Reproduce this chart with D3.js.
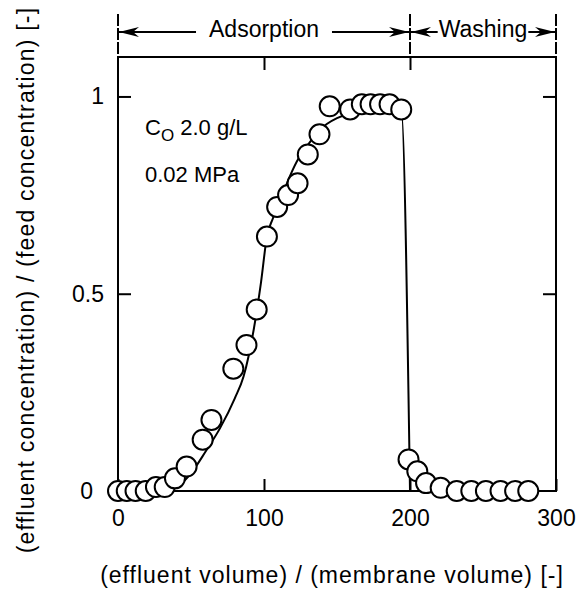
<!DOCTYPE html>
<html>
<head>
<meta charset="utf-8">
<script src="https://cdn.jsdelivr.net/npm/d3@7"></script>
<style>
  body { margin: 0; background: #fff; }
  svg text { font-family: "Liberation Sans", Arial, sans-serif; fill: #000; }
</style>
</head>
<body>
<svg id="chart" width="581" height="593"></svg>
<script>
// measured points: [effluent volume / membrane volume, C / C0]
const adsorptionPts = [
  [0, 0], [6, 0], [12, 0], [19, 0], [26, 0.01], [32, 0.01], [39, 0.032], [47, 0.062],
  [58, 0.13], [64, 0.18], [79, 0.31], [88, 0.37], [95, 0.46], [102, 0.645],
  [109, 0.72], [116.5, 0.75], [123, 0.78], [130, 0.853], [138, 0.904], [145, 0.975],
  [159, 0.967], [167, 0.98], [173, 0.98], [179.5, 0.98], [186, 0.98], [194, 0.967]
];
const washingPts = [
  [199, 0.08], [205, 0.05], [211, 0.02], [221, 0.008], [232, 0], [242, 0],
  [252, 0], [262, 0], [272, 0], [281, 0]
];
// fitted breakthrough curve
const fitCurve = [
  [0, 0], [30, 0], [40, 0.01], [50, 0.045], [60, 0.1], [70, 0.16], [80, 0.235],
  [86, 0.29], [93, 0.41], [98, 0.53], [102, 0.645], [106, 0.69], [112, 0.745],
  [118, 0.8], [124, 0.845], [130, 0.877], [137, 0.91], [143, 0.93], [150, 0.945],
  [160, 0.958], [170, 0.963], [185, 0.965], [194, 0.965], [200, 0]
];
const phases = [
  { name: "Adsorption", from: 0, to: 200 },
  { name: "Washing", from: 200, to: 300 }
];
const xTicks = [0, 100, 200, 300];
const yTicks = [0, 0.5, 1];
const noteLines = ["2.0 g/L", "0.02 MPa"];

const svg = d3.select("#chart");
const x = d3.scaleLinear().domain([0, 300]).range([118, 556]);
const y = d3.scaleLinear().domain([0, 1.1]).range([491, 57]);

// frame
svg.append("rect")
  .attr("x", x(0)).attr("y", y(1.1))
  .attr("width", x(300) - x(0)).attr("height", y(0) - y(1.1))
  .attr("fill", "none").attr("stroke", "#000").attr("stroke-width", 2);

const fontSize = 23;

// bottom axis, ticks pointing inward
svg.append("g")
  .attr("transform", `translate(0,${y(0)})`)
  .call(d3.axisBottom(x).tickValues(xTicks).tickSize(-12).tickPadding(19).tickFormat(d3.format("d")))
  .call(g => g.select(".domain").remove())
  .call(g => g.selectAll("line").attr("stroke-width", 2))
  .call(g => g.selectAll("text").attr("font-size", fontSize).attr("font-family", null));

// top axis, ticks only
svg.append("g")
  .attr("transform", `translate(0,${y(1.1)})`)
  .call(d3.axisTop(x).tickValues([100, 200]).tickSize(-13).tickFormat(""))
  .call(g => g.select(".domain").remove())
  .call(g => g.selectAll("line").attr("stroke-width", 2));

// left axis
svg.append("g")
  .attr("transform", `translate(${x(0)},0)`)
  .call(d3.axisLeft(y).tickValues(yTicks).tickSize(-13).tickPadding(14).tickFormat(d => String(d)))
  .call(g => g.select(".domain").remove())
  .call(g => g.selectAll("line").attr("stroke-width", 2))
  .call(g => g.selectAll("text").attr("font-size", fontSize).attr("font-family", null))
  // the zero label sits a bit further out, clear of the circles
  .call(g => g.selectAll("text").filter(d => d === 0).attr("dx", -11));

// right axis, ticks only
svg.append("g")
  .attr("transform", `translate(${x(300)},0)`)
  .call(d3.axisRight(y).tickValues([0.5, 1]).tickSize(-13).tickFormat(""))
  .call(g => g.select(".domain").remove())
  .call(g => g.selectAll("line").attr("stroke-width", 2));

// axis titles
svg.append("text")
  .attr("x", 332).attr("y", 583)
  .attr("text-anchor", "middle")
  .attr("font-size", fontSize)
  .attr("letter-spacing", 1)
  .text("(effluent volume) / (membrane volume) [-]");

svg.append("text")
  .attr("transform", "translate(34,280) rotate(-90)")
  .attr("text-anchor", "middle")
  .attr("font-size", fontSize)
  .attr("letter-spacing", 1.2)
  .text("(effluent concentration) / (feed concentration) [-]");

// phase annotation above the frame
const arrowY = 32;
svg.selectAll(".bound")
  .data([0, 200, 300])
  .join("line")
  .attr("class", "bound")
  .attr("x1", d => x(d)).attr("x2", d => x(d))
  .attr("y1", 14).attr("y2", y(1.1))
  .attr("stroke", "#000").attr("stroke-width", 2)
  .attr("stroke-dasharray", "12,2");

function arrowHead(tipX, dir) {
  // barbed arrow head, dir = +1 points right, -1 points left
  const L = 20, h = 5, n = 14;
  return `M${tipX},${arrowY} L${tipX - dir * L},${arrowY - h} L${tipX - dir * n},${arrowY} L${tipX - dir * L},${arrowY + h} Z`;
}

phases.forEach(p => {
  const cx = (x(p.from) + x(p.to)) / 2;
  const t = svg.append("text")
    .attr("x", cx).attr("y", 37)
    .attr("text-anchor", "middle")
    .attr("font-size", fontSize)
    .text(p.name);
  const w = t.node().getComputedTextLength();
  const free = (x(p.to) - x(p.from) - w) / 2;
  const gap = free > 40 ? 13 : 1;
  const x0 = x(p.from) + 1, x1 = x(p.to) - 1;
  svg.append("line")
    .attr("x1", x0).attr("x2", cx - w / 2 - gap)
    .attr("y1", arrowY).attr("y2", arrowY)
    .attr("stroke", "#000").attr("stroke-width", 2);
  svg.append("line")
    .attr("x1", cx + w / 2 + gap).attr("x2", x1)
    .attr("y1", arrowY).attr("y2", arrowY)
    .attr("stroke", "#000").attr("stroke-width", 2);
  svg.append("path").attr("d", arrowHead(x0, -1)).attr("fill", "#000");
  svg.append("path").attr("d", arrowHead(x1, 1)).attr("fill", "#000");
});

// conditions note
const note = svg.append("text")
  .attr("x", 145).attr("y", 135)
  .attr("font-size", 22);
note.append("tspan").text("C");
note.append("tspan").attr("dy", 6).attr("font-size", 17).text("O");
note.append("tspan").attr("dy", -6).text(" " + noteLines[0]);
svg.append("text")
  .attr("x", 145).attr("y", 182)
  .attr("font-size", 22)
  .text(noteLines[1]);

// fitted curve
const line = d3.line()
  .x(d => x(d[0]))
  .y(d => y(d[1]))
  .curve(d3.curveMonotoneX);
svg.append("path")
  .datum(fitCurve)
  .attr("d", line)
  .attr("fill", "none")
  .attr("stroke", "#000")
  .attr("stroke-width", 2);

// data points
svg.append("g")
  .selectAll("circle")
  .data(adsorptionPts.concat(washingPts))
  .join("circle")
  .attr("cx", d => x(d[0]))
  .attr("cy", d => y(d[1]))
  .attr("r", 10)
  .attr("fill", "#fff")
  .attr("stroke", "#000")
  .attr("stroke-width", 2);
</script>
</body>
</html>
